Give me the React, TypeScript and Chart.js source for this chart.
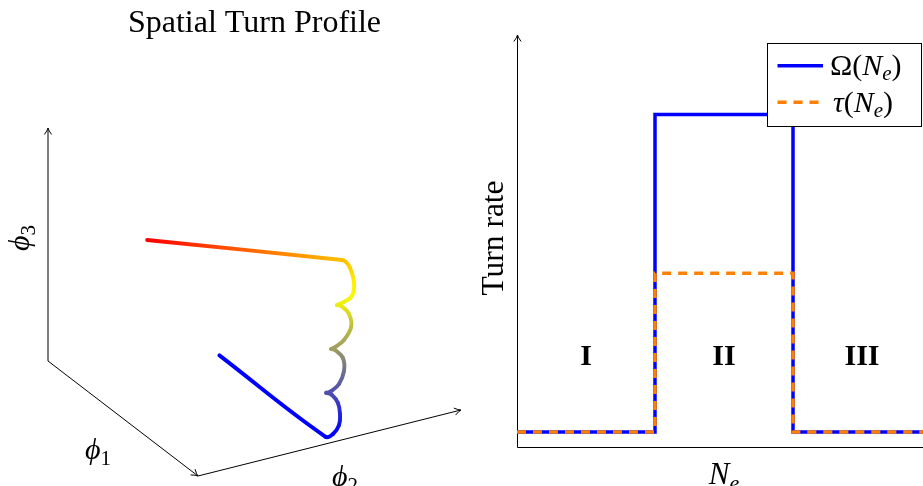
import React, { useEffect, useRef } from 'react';
import { Chart, registerables } from 'chart.js';

Chart.register(...registerables);

const SERIF = "'Liberation Serif', 'DejaVu Serif', serif";

// ---------- Left panel: spatial path in (phi1, phi2, phi3) ----------
const pathPhi1 = [0.245, 0.953, 0.953, 0.953, 0.953, 0.953, 0.953, 0.953, 0.953, 0.953,
  0.953, 0.953, 0.953, 0.953, 0.953, 0.953, 0.953, 0.953, 0.953, 0.953,
  0.953, 0.953, 0.953, 0.953, 0.953, 0.953, 0.953, 0.953, 0.953, 1.187];
const pathPhi2 = [0.512, 0.512, 0.540, 0.563, 0.567, 0.559, 0.536, 0.514, 0.514, 0.533,
  0.563, 0.582, 0.578, 0.548, 0.533, 0.533, 0.548, 0.582, 0.609, 0.601,
  0.571, 0.555, 0.555, 0.582, 0.612, 0.620, 0.605, 0.590, 0.574, -0.300];
const pathPhi3 = [0, 0, 0.004, 0.036, 0.082, 0.132, 0.173, 0.188, 0.188, 0.190,
  0.212, 0.263, 0.319, 0.362, 0.371, 0.371, 0.375, 0.396, 0.444, 0.502,
  0.545, 0.553, 0.553, 0.559, 0.576, 0.630, 0.698, 0.728, 0.741, 1.190];
const axisLabels3d = ['1', '2', '3'];
const leftTitle = 'Spatial Turn Profile';

// ---------- Right panel: turn rate vs N_e ----------
const neValues = [0, 1, 2, 3];
const omegaValues = [0, 2, 0, 0];
const tauValues = [0, 1, 0, 0];
const regionLabels = ['I', 'II', 'III'];
const regionCenters = [0.5, 1.5, 2.5];
const regionLabelLevel = 0.42;
const yAxisTitle = 'Turn rate';

const OMEGA_COLOR = '#0000ff';
const TAU_COLOR = '#ff8000';

// oblique view used to project the 3-D path onto the page
function proj(a: number, b: number, c: number) {
  return { x: 150 * a + 263 * b, y: -115 * a + 66 * b + 233 * c };
}

function turnColor(t: number) {
  const v = Math.max(0, Math.min(1, t));
  if (v <= 0.5) {
    const f = v / 0.5;
    return `rgb(${Math.round(255 * f)},${Math.round(255 * f)},${Math.round(255 * (1 - f))})`;
  }
  const g = (v - 0.5) / 0.5;
  return `rgb(255,${Math.round(255 * (1 - g))},0)`;
}

type Part = { t: string; size: number; italic?: boolean; bold?: boolean; dy?: number };
function fontOf(p: Part) {
  return `${p.italic ? 'italic ' : ''}${p.bold ? 'bold ' : ''}${p.size}px ${SERIF}`;
}
function measureRich(ctx: CanvasRenderingContext2D, parts: Part[]) {
  let w = 0;
  for (const p of parts) {
    ctx.font = fontOf(p);
    w += ctx.measureText(p.t).width;
  }
  return w;
}
function drawRich(ctx: CanvasRenderingContext2D, parts: Part[], x: number, y: number) {
  let cx = x;
  ctx.textAlign = 'left';
  ctx.textBaseline = 'alphabetic';
  for (const p of parts) {
    ctx.font = fontOf(p);
    ctx.fillText(p.t, cx, y + (p.dy || 0));
    cx += ctx.measureText(p.t).width;
  }
}

function arrowLine(ctx: CanvasRenderingContext2D, a: number[], b: number[]) {
  const dx = b[0] - a[0];
  const dy = b[1] - a[1];
  const len = Math.hypot(dx, dy);
  const ux = dx / len, uy = dy / len;
  const nx = -uy, ny = ux;
  ctx.beginPath();
  ctx.moveTo(a[0], a[1]);
  ctx.lineTo(b[0] - ux * 0.5, b[1] - uy * 0.5);
  ctx.stroke();
  const L = 6.5, W = 3.6;
  for (const s of [1, -1]) {
    ctx.beginPath();
    ctx.moveTo(b[0] - ux * L + nx * W * s, b[1] - uy * L + ny * W * s);
    ctx.quadraticCurveTo(b[0] - ux * 2.5 + nx * 0.6 * s, b[1] - uy * 2.5 + ny * 0.6 * s, b[0], b[1]);
    ctx.stroke();
  }
}

const p3max = Math.max(...pathPhi3);

function leftConfig(): any {
  const pts = pathPhi1.map((a, i) => proj(a, pathPhi2[i], pathPhi3[i]));
  const decor = {
    id: 'leftDecor',
    beforeDatasetsDraw(chart: any) {
      const { ctx } = chart;
      const { x, y } = chart.scales;
      const px = (a: number, b: number, c: number) => {
        const q = proj(a, b, c);
        return [x.getPixelForValue(q.x), y.getPixelForValue(q.y)];
      };
      ctx.save();
      ctx.strokeStyle = '#000';
      ctx.lineWidth = 1;
      const o = px(0, 0, 0), a1 = px(1, 0, 0), a2 = px(1, 1, 0), a3 = px(0, 0, 1);
      arrowLine(ctx, o, a1);
      arrowLine(ctx, a1, a2);
      arrowLine(ctx, o, a3);
      ctx.restore();
    },
    afterDraw(chart: any) {
      const { ctx } = chart;
      const { x, y } = chart.scales;
      const px = (a: number, b: number, c: number) => {
        const q = proj(a, b, c);
        return [x.getPixelForValue(q.x), y.getPixelForValue(q.y)];
      };
      const o = px(0, 0, 0), a1 = px(1, 0, 0), a2 = px(1, 1, 0), a3 = px(0, 0, 1);
      ctx.save();
      ctx.fillStyle = '#000';
      ctx.font = `32px ${SERIF}`;
      ctx.textAlign = 'center';
      ctx.textBaseline = 'alphabetic';
      ctx.fillText(leftTitle, (o[0] + a2[0]) / 2, 32);
      const phiParts = (s: string): Part[] => [
        { t: '\u03D5', size: 30, italic: true },
        { t: s, size: 21, dy: 6 },
      ];
      const put = (cx: number, cy: number, s: string, rot: boolean) => {
        const parts = phiParts(s);
        const w = measureRich(ctx, parts);
        ctx.save();
        ctx.translate(cx, cy);
        if (rot) ctx.rotate(-Math.PI / 2);
        drawRich(ctx, parts, -w / 2, 8);
        ctx.restore();
      };
      put((o[0] + a1[0]) / 2 - 25, (o[1] + a1[1]) / 2 + 32.5, axisLabels3d[0], false);
      put((a1[0] + a2[0]) / 2 + 15.5, (a1[1] + a2[1]) / 2 + 35, axisLabels3d[1], false);
      put((o[0] + a3[0]) / 2 - 27, (o[1] + a3[1]) / 2 - 6.5, axisLabels3d[2], true);
      ctx.restore();
    },
  };
  return {
    type: 'line',
    data: {
      datasets: [
        {
          data: pts,
          borderColor: OMEGA_COLOR,
          borderWidth: 3.9,
          borderCapStyle: 'round',
          borderJoinStyle: 'round',
          pointRadius: 0,
          tension: 0.4,
          clip: false,
          segment: {
            borderColor: (c: any) => {
              const g = c.chart.ctx.createLinearGradient(c.p0.x, c.p0.y, c.p1.x, c.p1.y);
              g.addColorStop(0, turnColor(pathPhi3[c.p0DataIndex] / p3max));
              g.addColorStop(1, turnColor(pathPhi3[c.p1DataIndex] / p3max));
              return g;
            },
            borderDashOffset: (c: any) => c.p0DataIndex,
          },
        },
      ],
    },
    options: {
      responsive: false,
      animation: false,
      devicePixelRatio: 1,
      layout: { padding: 0 },
      plugins: { legend: { display: false }, tooltip: { enabled: false }, title: { display: false } },
      scales: {
        x: { type: 'linear', display: false, min: -48, max: 422 },
        y: { type: 'linear', display: false, min: -125, max: 361 },
      },
    },
    plugins: [decor],
  };
}

function rightConfig(): any {
  const decor = {
    id: 'rightDecor',
    beforeDatasetsDraw(chart: any) {
      const { ctx, chartArea } = chart;
      ctx.save();
      ctx.strokeStyle = '#000';
      ctx.lineWidth = 1;
      const lx = Math.round(chartArea.left) + 0.5;
      const by = Math.round(chartArea.bottom) - 0.5;
      arrowLine(ctx, [lx, by], [lx, chartArea.top]);
      arrowLine(ctx, [lx, by], [chartArea.right, by]);
      ctx.restore();
    },
    afterDatasetsDraw(chart: any) {
      const { ctx, chartArea } = chart;
      const { x, y } = chart.scales;
      ctx.save();
      ctx.fillStyle = '#000';
      ctx.font = `bold 30px ${SERIF}`;
      ctx.textAlign = 'center';
      ctx.textBaseline = 'alphabetic';
      regionLabels.forEach((lab, i) => {
        ctx.fillText(lab, x.getPixelForValue(regionCenters[i]), y.getPixelForValue(regionLabelLevel));
      });
      ctx.save();
      ctx.translate(chartArea.left - 14, 238);
      ctx.rotate(-Math.PI / 2);
      ctx.font = `31.5px ${SERIF}`;
      ctx.textAlign = 'center';
      ctx.fillText(yAxisTitle, 0, 0);
      ctx.restore();
      const xt: Part[] = [
        { t: 'N', size: 31, italic: true },
        { t: 'e', size: 22, italic: true, dy: 6 },
      ];
      const wx = measureRich(ctx, xt);
      drawRich(ctx, xt, x.getPixelForValue(1.5) - wx / 2, chartArea.bottom + 36);
      // legend
      const L = chartArea.left + 250.5;
      const T = 43.5;
      ctx.fillStyle = '#fff';
      ctx.fillRect(L, T, 154, 83);
      ctx.strokeStyle = '#000';
      ctx.lineWidth = 1;
      ctx.strokeRect(L, T, 154, 83);
      ctx.lineWidth = 3.5;
      ctx.strokeStyle = OMEGA_COLOR;
      ctx.beginPath();
      ctx.moveTo(L + 10, 65.7);
      ctx.lineTo(L + 55.5, 65.7);
      ctx.stroke();
      ctx.strokeStyle = TAU_COLOR;
      ctx.setLineDash([9, 7]);
      ctx.beginPath();
      ctx.moveTo(L + 10, 102.3);
      ctx.lineTo(L + 55.5, 102.3);
      ctx.stroke();
      ctx.setLineDash([]);
      ctx.fillStyle = '#000';
      drawRich(ctx, [
        { t: '\u03A9(', size: 30 },
        { t: 'N', size: 30, italic: true },
        { t: 'e', size: 21, italic: true, dy: 5 },
        { t: ')', size: 30 },
      ], L + 62.5, 75);
      drawRich(ctx, [
        { t: '\u03C4', size: 30, italic: true },
        { t: '(', size: 30 },
        { t: 'N', size: 30, italic: true },
        { t: 'e', size: 21, italic: true, dy: 5 },
        { t: ')', size: 30 },
      ], L + 65.5, 112);
      ctx.restore();
    },
  };
  return {
    type: 'line',
    data: {
      datasets: [
        {
          label: '\u03A9(Ne)',
          data: neValues.map((v, i) => ({ x: v, y: omegaValues[i] })),
          borderColor: OMEGA_COLOR,
          borderWidth: 3.5,
          stepped: 'before',
          pointRadius: 0,
          borderJoinStyle: 'miter',
          order: 2,
        },
        {
          label: '\u03C4(Ne)',
          data: neValues.map((v, i) => ({ x: v, y: tauValues[i] })),
          borderColor: TAU_COLOR,
          borderWidth: 3.5,
          borderDash: [9, 7],
          stepped: 'before',
          pointRadius: 0,
          borderJoinStyle: 'miter',
          order: 1,
        },
      ],
    },
    options: {
      responsive: false,
      animation: false,
      devicePixelRatio: 1,
      layout: { padding: { left: 47, top: 35, bottom: 38, right: 21.4 } },
      plugins: { legend: { display: false }, tooltip: { enabled: false }, title: { display: false } },
      scales: {
        x: { type: 'linear', display: false, min: 0, max: 3.2 },
        y: { type: 'linear', display: false, min: -0.1, max: 2.5 },
      },
    },
    plugins: [decor],
  };
}

export default function App() {
  const leftRef = useRef<HTMLCanvasElement>(null);
  const rightRef = useRef<HTMLCanvasElement>(null);
  useEffect(() => {
    const left = new Chart(leftRef.current as HTMLCanvasElement, leftConfig());
    const right = new Chart(rightRef.current as HTMLCanvasElement, rightConfig());
    return () => {
      left.destroy();
      right.destroy();
    };
  }, []);
  return (
    <div style={{ position: 'fixed', left: 0, top: 0, width: 923, height: 486, overflow: 'hidden', background: '#fff' }}>
      <canvas ref={leftRef} width={470} height={486} style={{ position: 'absolute', left: 0, top: 0, width: 470, height: 486 }} />
      <canvas ref={rightRef} width={510} height={486} style={{ position: 'absolute', left: 470, top: 0, width: 510, height: 486 }} />
    </div>
  );
}
